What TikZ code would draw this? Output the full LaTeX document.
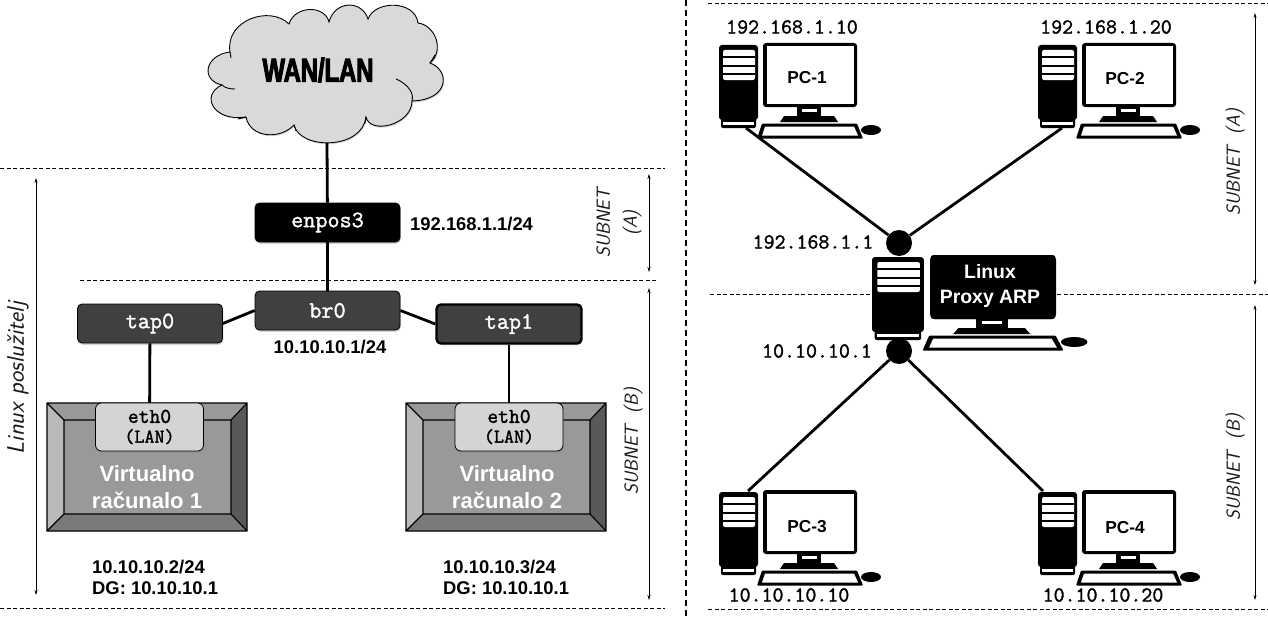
\documentclass[tikz,border=0pt]{standalone}
\usepackage{fontspec}
\setmainfont{Liberation Sans}
\setmonofont[FakeBold=1.6]{Latin Modern Mono}
\newfontfamily\wanfont[FakeStretch=0.72,FakeBold=3]{Liberation Sans Bold}
\usetikzlibrary{arrows.meta,shadows}
\definecolor{boxdark}{HTML}{404040}
\definecolor{cloudfill}{HTML}{D9D9D9}
\definecolor{ethfill}{HTML}{D4D4D4}
\newcommand{\fs}[1]{\fontsize{#1}{#1}\selectfont}
\tikzset{
  softshadow/.style={drop shadow={opacity=.35,shadow xshift=.8pt,shadow yshift=-1.8pt}},
  ifbox/.style={draw=black,line width=.8pt,rounded corners=4.5pt,minimum width=145pt,minimum height=39pt,inner sep=0pt,text=white,font=\ttfamily\bfseries\fs{23.5},softshadow},
  ethbox/.style={draw=black,line width=.8pt,fill=ethfill,rounded corners=6pt,minimum width=108pt,minimum height=48pt,inner sep=0pt,align=center,softshadow},
  wire/.style={line width=2.8pt,black},
  dashline/.style={line width=.7pt,dash pattern=on 4pt off 2.5pt,black},
  dim/.style={line width=.6pt,{Stealth[length=5pt,width=3pt]}-{Stealth[length=5pt,width=3pt]}},
  hand/.style={font=\sffamily\itshape\fs{19},text=black!90,rotate=90,align=center},
  iplabel/.style={font=\bfseries\fs{18.4},inner sep=0pt,anchor=west},
  monolabel/.style={font=\ttfamily\bfseries\fs{21.3},inner sep=0pt},
  pclabel/.style={font=\bfseries\fs{17.3},inner sep=0pt},
  vmlabel/.style={font=\bfseries\fs{22},text=white,inner sep=0pt,align=center},
  hub/.style={circle,fill=black,minimum size=26pt,inner sep=0pt},
  pcicon/.pic={
    \fill[black,rounded corners=2pt] (2,74) rectangle (37,84);
    \fill[white] (4,78) rectangle (35,81);
    \fill[black,rounded corners=3pt] (0,1) rectangle (39,76);
    \fill[white,rounded corners=2pt] (4,6) rectangle (36,36);
    \foreach \ly in {13,22,30} \draw[black,line width=1.1pt] (4,\ly) -- (36,\ly);
    \fill[black,rounded corners=3pt] (44,-1) rectangle (138,63);
    \fill[white] (47.5,2.5) rectangle (134.5,59.5);
    \fill[black] (78,63) rectangle (102,74);
    \fill[white] (83,65) rectangle (98,68);
    \fill[black] (65,72) -- (115,72) -- (119,78) -- (61,78) -- cycle;
    \fill[black,rounded corners=1pt] (43,79.5) -- (138,79.5) -- (144,94.5) -- (38,94.5) -- cycle;
    \fill[white] (46,82.5) -- (135,82.5) -- (139,91.5) -- (43,91.5) -- cycle;
    \fill[black] (152,86) ellipse [x radius=10,y radius=5];
  },
  vmbevel/.pic={
    \fill[black!40] (0,0) -- (200,0) -- (184,17) -- (17,17) -- cycle;
    \fill[black!27] (0,0) -- (17,17) -- (17,111) -- (0,128) -- cycle;
    \fill[black!65] (200,0) -- (200,128) -- (184,111) -- (184,17) -- cycle;
    \fill[black!52] (0,128) -- (17,111) -- (184,111) -- (200,128) -- cycle;
    \fill[black!40] (17,17) rectangle (184,111);
    \draw[black,line width=1.1pt] (0,0) rectangle (200,128) (17,17) rectangle (184,111)
      (0,0) -- (17,17) (200,0) -- (184,17) (0,128) -- (17,111) (200,128) -- (184,111);
  }
}
\begin{document}
\begin{tikzpicture}[x=1pt,y=-1pt]
\useasboundingbox (0,0) rectangle (1268,618);

% dashed separators, left panel
\draw[dashline] (0,168) -- (665,168);
\draw[dashline] (80,280) -- (657,280);
\draw[dashline] (0,608) -- (665,608);
% divider
\draw[line width=1.2pt,dash pattern=on 6pt off 4pt] (686,0) -- (686,618);
% dashed separators, right panel
\draw[dashline] (708,3) -- (1268,3);
\draw[dashline] (710,294) -- (870,294);
\draw[dashline] (1057,294) -- (1268,294);
\draw[dashline] (708,609) -- (1268,609);

% dimension arrows
\draw[dim] (36,178) -- (36,595);
\draw[dim] (649,174) -- (649,272);
\draw[dim] (649,288) -- (649,600);
\draw[dim] (1255,13) -- (1255,285);
\draw[dim] (1255,305) -- (1255,600);

\node[hand] (lblserver) at (18,378) {\fs{24}Linux poslužitelj};
\node[hand] (lblA) at (619,223) {SUBNET\\[8pt](A)};
\node[hand] (lblB) at (633,441) {SUBNET\ \ (B)};
\node[hand] (lblRA) at (1235,162) {SUBNET\ \ (A)};
\node[hand] (lblRB) at (1235,467) {SUBNET\ \ (B)};

% cloud
\path[fill=cloudfill,draw=black,line width=.9pt,drop shadow={opacity=.3,shadow xshift=1pt,shadow yshift=-1.5pt}]
  (366,117) .. controls (362,150) and (300,150) .. (294,125)
  .. controls (280,140) and (250,138) .. (246,117)
  .. controls (213,122) and (200,95) .. (222,85)
  .. controls (200,80) and (205,55) .. (230,52)
  .. controls (225,20) and (270,5) .. (289,24)
  .. controls (295,5) and (325,5) .. (329,22)
  .. controls (335,0) and (362,0) .. (368,19)
  .. controls (375,0) and (415,0) .. (418,23)
  .. controls (435,25) and (445,50) .. (430,63)
  .. controls (450,70) and (450,100) .. (412,101)
  .. controls (412,125) and (370,135) .. (366,117) -- cycle;
\draw[line width=.9pt] (222,85) .. controls (225,88) and (230,89) .. (235,89);
\draw[line width=.9pt] (230,52) -- (231,58);
\draw[line width=.9pt] (246,117) -- (238,119);
\draw[line width=.9pt] (294,125) -- (296,131);
\draw[line width=.9pt] (366,117) -- (365,123);
\draw[line width=.9pt] (396,79) .. controls (410,85) and (414,95) .. (412,101);
\draw[line width=.9pt] (430,63) -- (435,55);
\node[font=\wanfont\fs{33},inner sep=0pt] (wan) at (318,70) {WAN/LAN};
\coordinate (cloudb) at (327,143);

% interface boxes
\node[ifbox,fill=black] (enpos) at (327.5,222.5) {enpos3};
\node[ifbox,fill=boxdark] (br) at (327.5,310.5) {br0};
\node[ifbox,fill=boxdark] (tapa) at (150,323.5) {tap0};
\node[ifbox,fill=boxdark,line width=2.4pt] (tapb) at (509,324) {tap1};

% virtual machines
\pic at (47,403) {vmbevel};
\pic at (406,403) {vmbevel};
\node[ethbox] (etha) at (149.5,427) {\ttfamily\bfseries\fs{21}eth0\\[5pt]\ttfamily\bfseries\fs{19.5}(LAN)};
\node[ethbox] (ethb) at (509,427) {\ttfamily\bfseries\fs{21}eth0\\[5pt]\ttfamily\bfseries\fs{19.5}(LAN)};
\node[vmlabel] (vma) at (147,487) {Virtualno\\[5pt]računalo 1};
\node[vmlabel] (vmb) at (507,487) {Virtualno\\[5pt]računalo 2};

% left connectors
\draw[wire] (cloudb) -- (enpos);
\draw[wire] (enpos) -- (br);
\draw[wire] (br.west) -- (tapa.east);
\draw[wire] (br.east) -- (tapb.west);
\draw[wire] (tapa) -- (etha);
\draw[wire] (tapb) -- (ethb);

% left labels
\node[iplabel] (ipwan) at (410,224) {192.168.1.1/24};
\node[font=\bfseries\fs{18.4},inner sep=0pt] (ipbr) at (330,347) {10.10.10.1/24};
\node[iplabel] (ipa) at (92,567) {10.10.10.2/24};
\node[iplabel] (dga) at (92,588) {DG: 10.10.10.1};
\node[iplabel] (ipb) at (443,567) {10.10.10.3/24};
\node[iplabel] (dgb) at (443,588) {DG: 10.10.10.1};

% right panel connectors
\node[hub] (hubt) at (899,243) {};
\node[hub] (hubb) at (899,351) {};
\coordinate (pconeend) at (746,128);
\coordinate (pctwoend) at (1062,128);
\coordinate (pcthreeend) at (748,491);
\coordinate (pcfourend) at (1043,491);
\draw[wire] (pconeend) -- (hubt);
\draw[wire] (pctwoend) -- (hubt);
\draw[wire] (pcthreeend) -- (hubb);
\draw[wire] (pcfourend) -- (hubb);

% computers
\pic at (719,44) {pcicon};
\pic at (1038,44) {pcicon};
\pic at (719,491) {pcicon};
\pic at (1038,491) {pcicon};
\pic[xscale=1.33] at (872,256) {pcicon};
\fill[black,rounded corners=5pt] (930,255) rectangle (1056,319);
\node[pclabel] (pca) at (807,78) {PC-1};
\node[pclabel] (pcb) at (1125,79) {PC-2};
\node[pclabel] (pcc) at (807,527) {PC-3};
\node[pclabel] (pcd) at (1125,528) {PC-4};
\node[font=\bfseries\fs{19.4},text=white,inner sep=0pt,align=center] (proxy) at (990,286) {Linux\\[5pt]Proxy ARP};

% addresses
\node[monolabel] (adra) at (792,27) {192.168.1.10};
\node[monolabel] (adrb) at (1106,27) {192.168.1.20};
\node[monolabel] (adrc) at (789,595) {10.10.10.10};
\node[monolabel] (adrd) at (1103,595) {10.10.10.20};
\node[monolabel] (adrt) at (813,242) {192.168.1.1};
\node[monolabel] (adrm) at (817,351) {10.10.10.1};
\end{tikzpicture}
\end{document}
